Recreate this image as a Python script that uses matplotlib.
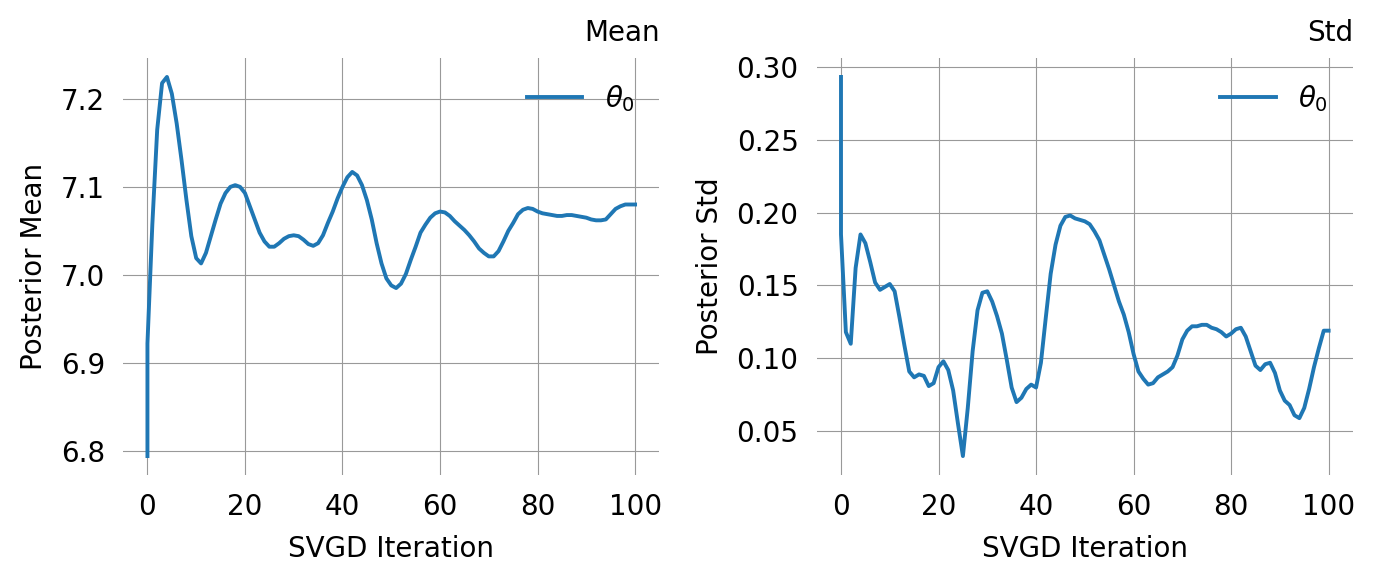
import matplotlib
matplotlib.use("Agg")
import matplotlib.pyplot as plt

# SVGD iteration index (the initial particles are logged at 0 as well)
iterations = [0] + list(range(101))

post_mean = [
    6.794, 6.922, 7.057, 7.165, 7.218, 7.225, 7.206, 7.172, 7.130, 7.085, 7.044,
    7.019, 7.013, 7.025, 7.044, 7.063, 7.081, 7.093, 7.100, 7.102, 7.100,
    7.093, 7.078, 7.063, 7.048, 7.038, 7.032, 7.032, 7.036, 7.041, 7.044,
    7.045, 7.044, 7.040, 7.035, 7.033, 7.036, 7.045, 7.059, 7.072, 7.087,
    7.100, 7.111, 7.117, 7.113, 7.102, 7.085, 7.063, 7.036, 7.013, 6.996,
    6.988, 6.985, 6.990, 7.001, 7.017, 7.032, 7.048, 7.057, 7.065, 7.070,
    7.072, 7.071, 7.067, 7.061, 7.056, 7.051, 7.045, 7.038, 7.030, 7.025,
    7.021, 7.021, 7.027, 7.038, 7.050, 7.059, 7.069, 7.074, 7.076, 7.075,
    7.072, 7.070, 7.069, 7.068, 7.067, 7.067, 7.068, 7.068, 7.067, 7.066,
    7.065, 7.063, 7.062, 7.062, 7.063, 7.069, 7.075, 7.078, 7.080, 7.080,
    7.080,
]

post_std = [
    0.293, 0.185, 0.118, 0.110, 0.162, 0.185, 0.179, 0.166, 0.152, 0.147, 0.149,
    0.151, 0.146, 0.128, 0.109, 0.091, 0.087, 0.089, 0.088, 0.081, 0.083,
    0.094, 0.098, 0.092, 0.078, 0.055, 0.033, 0.066, 0.105, 0.133, 0.145,
    0.146, 0.139, 0.129, 0.117, 0.099, 0.080, 0.070, 0.073, 0.079, 0.082,
    0.080, 0.097, 0.128, 0.158, 0.178, 0.191, 0.197, 0.198, 0.196, 0.195,
    0.194, 0.192, 0.187, 0.181, 0.171, 0.161, 0.150, 0.139, 0.130, 0.118,
    0.103, 0.091, 0.086, 0.082, 0.083, 0.087, 0.089, 0.091, 0.094, 0.102,
    0.113, 0.119, 0.122, 0.122, 0.123, 0.123, 0.121, 0.120, 0.118, 0.115,
    0.117, 0.120, 0.121, 0.115, 0.105, 0.095, 0.092, 0.096, 0.097, 0.090,
    0.078, 0.071, 0.068, 0.061, 0.059, 0.066, 0.079, 0.094, 0.107, 0.119,
    0.119,
]

series_label = r"$\theta_0$"
fs = 20

fig, axes = plt.subplots(1, 2, figsize=(13.75, 5.8), dpi=100)
fig.subplots_adjust(left=0.0895, right=0.984, top=0.9, bottom=0.181, wspace=0.293)

panels = [
    (axes[0], post_mean, "Mean", "Posterior Mean"),
    (axes[1], post_std, "Std", "Posterior Std"),
]

for ax, vals, title, ylabel in panels:
    ax.plot(iterations, vals, color="#1f77b4", lw=2.8, label=series_label)
    ax.set_title(title, loc="right", fontsize=fs, pad=12.5)
    ax.set_xlabel("SVGD Iteration", fontsize=fs, labelpad=10)
    ax.set_ylabel(ylabel, fontsize=fs, labelpad=9)
    ax.set_xticks([0, 20, 40, 60, 80, 100])
    ax.tick_params(length=0, pad=13, labelsize=fs)
    ax.grid(True, color="#999999", lw=0.8)
    ax.set_axisbelow(True)
    for s in ax.spines.values():
        s.set_visible(False)
    ax.legend(loc="upper right", frameon=False, fontsize=fs)

axes[1].set_yticks([0.05, 0.10, 0.15, 0.20, 0.25, 0.30])

fig.savefig("out.png", dpi=100)
